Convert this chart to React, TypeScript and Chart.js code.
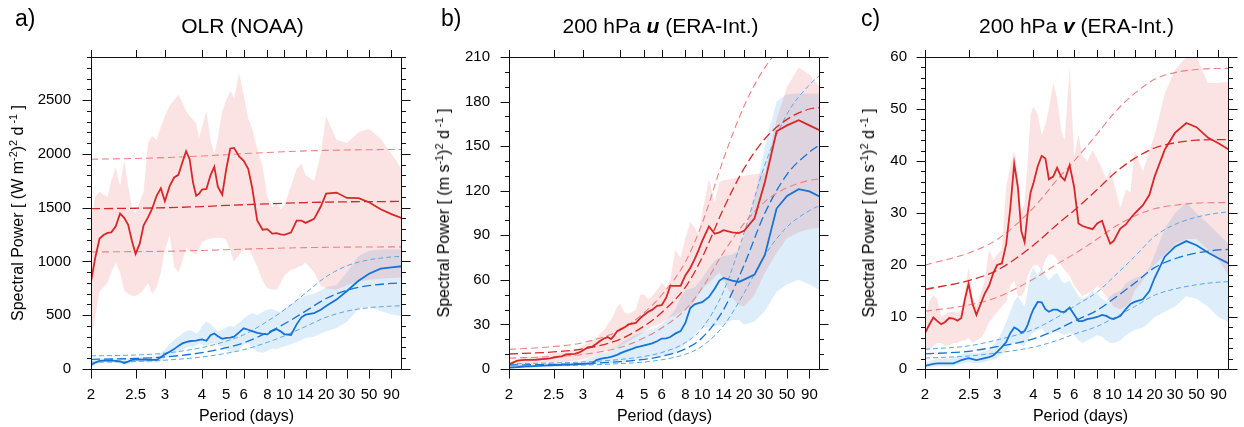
import React, { useEffect, useRef } from 'react';
import { Chart, registerables, LinearScale } from 'chart.js';

Chart.register(...registerables);

// ---------------- data ----------------
const PERIODS = [
  2, 2.04, 2.08, 2.12, 2.16, 2.2, 2.25, 2.3, 2.35, 2.4,
  2.45, 2.5, 2.56, 2.62, 2.69, 2.76, 2.84, 2.92, 3, 3.1,
  3.2, 3.3, 3.4, 3.5, 3.6, 3.7, 3.8, 3.9, 4, 4.15,
  4.3, 4.45, 4.6, 4.8, 5, 5.2, 5.4, 5.7, 6, 6.3,
  6.6, 7, 7.5, 8, 8.5, 9, 9.5, 10, 11, 12,
  13, 14, 16, 18, 20, 24, 30, 38, 50, 65,
  90, 120,
];
const FIT_PERIODS = [2, 2.5, 3, 4, 5, 6, 8, 10, 14, 20, 30, 50, 90, 120];
const X_TICK_PERIODS = [2, 2.5, 3, 4, 5, 6, 8, 10, 14, 20, 30, 50, 90];
const PERIOD_MIN = 2;
const PERIOD_MAX = 120;

// a) OLR (NOAA)
const OLR_RED = [
  813, 1040, 1213, 1245, 1265, 1270, 1327, 1445, 1405, 1340,
  1190, 1070, 1165, 1335, 1410, 1490, 1610, 1680, 1560, 1700,
  1780, 1805, 1920, 2025, 1950, 1735, 1610, 1630, 1668, 1673,
  1800, 1880, 1695, 1620, 1860, 2050, 2055, 1975, 1935, 1860,
  1680, 1380, 1295, 1300, 1258, 1262, 1252, 1247, 1268, 1380,
  1380, 1358, 1395, 1510, 1630, 1640, 1590, 1588, 1550, 1485,
  1440, 1402,
];
const OLR_BLUE = [
  37, 60, 75, 77, 78, 77, 75, 70, 55, 68,
  84, 87, 89, 88, 85, 84, 84, 110, 136, 160,
  185, 215, 238, 250, 258, 262, 264, 270, 275, 262,
  315, 330, 305, 280, 290, 292, 300, 340, 378, 365,
  352, 335, 327, 322, 355, 370, 350, 325, 316, 415,
  480, 505, 520, 550, 585, 645, 725, 820, 885, 933,
  945, 955,
];
const OLR_RED_HI = [
  1400, 1600, 1650, 1620, 1600, 1750, 1870, 1700, 1940, 1700,
  1500, 1450, 1550, 1650, 2100, 2165, 2130, 2250, 2350, 2450,
  2500, 2550, 2480, 2400, 2350, 2320, 2280, 2150, 2250, 2400,
  2130, 2000, 2150, 2400, 2500, 2585, 2520, 2750, 2550, 2330,
  2230, 2050, 1880, 1600, 1500, 1550, 1480, 1520, 1700, 1860,
  1910, 1800, 1750, 2000, 2350, 2130, 2100, 2200, 2230, 2140,
  2000, 1855,
];
const OLR_RED_LO = [
  300, 500, 720, 760, 800, 900, 990, 900, 730, 700,
  680, 680, 700, 736, 800, 700, 760, 900, 1100, 1250,
  950, 900, 1000, 1130, 1100, 1080, 1063, 1120, 1180, 1200,
  1210, 1215, 1219, 1219, 1200, 1100, 1000, 1060, 1110, 1120,
  1050, 950, 820, 750, 740, 736, 800, 870, 920, 940,
  960, 990, 900, 770, 750, 736, 780, 810, 830, 840,
  845, 850,
];
const OLR_BLUE_HI = [
  85, 90, 95, 98, 100, 100, 100, 100, 95, 100,
  105, 108, 110, 110, 110, 112, 120, 150, 180, 230,
  270, 300, 330, 350, 360, 350, 330, 350, 400, 440,
  420, 380, 350, 360, 390, 400, 390, 430, 470, 500,
  520, 500, 530, 550, 560, 540, 530, 560, 600, 640,
  670, 680, 700, 730, 760, 780, 900, 1050, 1100, 1110,
  1112, 1110,
];
const OLR_BLUE_LO = [
  20, 40, 55, 58, 60, 60, 58, 50, 40, 45,
  55, 60, 62, 62, 60, 60, 60, 75, 95, 115,
  140, 160, 180, 200, 210, 200, 220, 240, 230, 215,
  235, 240, 220, 200, 180, 160, 150, 180, 230, 240,
  200, 160, 150, 170, 190, 185, 200, 210, 230, 250,
  270, 290, 300, 330, 350, 380, 440, 560, 580, 540,
  510, 490,
];
const OLR_RED_FIT_HI = [1950, 1957, 1965, 1980, 1992, 2002, 2012, 2020, 2027, 2032, 2036, 2038, 2040, 2040];
const OLR_RED_FIT = [1490, 1494, 1499, 1510, 1520, 1527, 1535, 1541, 1547, 1551, 1554, 1556, 1557, 1558];
const OLR_RED_FIT_LO = [1088, 1091, 1094, 1102, 1109, 1114, 1120, 1124, 1128, 1131, 1133, 1134, 1135, 1135];
const OLR_BLUE_FIT_HI = [122, 130, 147, 199, 259, 318, 443, 548, 705, 858, 959, 1015, 1041, 1048];
const OLR_BLUE_FIT = [90, 98, 112, 152, 198, 243, 338, 418, 538, 655, 732, 775, 795, 800];
const OLR_BLUE_FIT_LO = [62, 70, 82, 112, 146, 179, 248, 307, 395, 481, 538, 570, 584, 588];

// b) 200 hPa u (ERA-Int.)
const U_RED = [
  3.1, 4.5, 5.6, 6.0, 6.1, 6.1, 6.1, 6.4, 6.7, 6.9,
  7.2, 7.7, 8.2, 8.5, 9.8, 10.0, 10.2, 11.0, 12.5, 14.5,
  15.0, 17.0, 19.0, 20.5, 21.5, 20.2, 22.5, 25.5, 26.5, 28.0,
  30.0, 30.5, 31.0, 34.3, 36.5, 38.5, 39.8, 42.5, 43.0, 48,
  56, 56, 56, 63, 68, 74, 80, 86, 96, 91,
  92, 93.5, 92, 91.5, 93, 101.5, 126, 160, 164, 167.5,
  164, 160.5,
];
const U_BLUE = [
  0.9, 1.1, 1.3, 1.5, 1.7, 1.8, 2.0, 2.1, 2.3, 2.4,
  2.5, 2.6, 2.7, 2.8, 2.9, 3.0, 3.2, 3.3, 3.4, 3.6,
  3.8, 6.0, 6.8, 7.3, 7.7, 8.2, 8.8, 9.5, 10.5, 11.7,
  12.7, 13.6, 14.6, 15.2, 15.9, 16.6, 17.2, 18.7, 20.5, 20.6,
  21.5, 23.8, 25.5, 31, 41, 43.5, 44.3, 45, 48.5, 54,
  59.5, 61.3, 59.5, 58.6, 60.2, 63.5, 77, 108, 116.5, 121,
  119.5, 116,
];
const U_RED_HI = [
  4.5, 5.5, 6.5, 7.0, 7.5, 8.0, 8.0, 8.5, 9.0, 9.5,
  10.0, 10.5, 11.0, 11.5, 12.0, 12.5, 13.0, 14.0, 16, 17.5,
  19, 21, 24, 26, 30, 33, 37, 42, 44, 38,
  37, 38.6, 40, 50, 50, 47, 49, 53, 58, 55,
  60, 80, 75, 88, 99, 95, 90, 105, 128, 112,
  126, 127, 128, 129, 130, 131, 132, 168, 190, 203,
  198, 190,
];
const U_RED_LO = [
  1.5, 1.8, 2.0, 2.2, 2.4, 2.6, 2.8, 3.0, 3.2, 3.4,
  3.6, 3.8, 4.0, 4.3, 4.6, 5.0, 5.5, 6.0, 6.8, 7.5,
  8.5, 9.5, 10.5, 11.5, 12.5, 13.0, 14.0, 14.5, 15.5, 17,
  18.5, 20, 21.5, 23, 25, 27, 29, 30, 31, 33,
  35, 36, 38, 40, 42, 46, 50, 54, 58, 62,
  65, 60, 48, 43, 42, 50, 65, 78, 88, 92,
  94, 95,
];
const U_BLUE_HI = [
  1.5, 1.6, 1.8, 2.0, 2.2, 2.4, 2.6, 2.8, 3.0, 3.2,
  3.4, 3.6, 3.8, 4.0, 4.2, 4.4, 4.6, 5.0, 5.5, 6.5,
  8, 9.5, 10.5, 11, 11.5, 12.5, 14, 15.5, 17, 19,
  20.5, 22, 23, 24, 25, 26, 27, 28, 30, 33,
  36, 40, 48, 53, 54, 55, 58, 61, 68, 73,
  75, 76, 77, 80, 90, 115, 150, 180, 185, 185.5,
  185.5, 185.5,
];
const U_BLUE_LO = [
  0.3, 0.4, 0.5, 0.6, 0.7, 0.8, 0.9, 1.0, 1.1, 1.2,
  1.3, 1.4, 1.5, 1.6, 1.7, 1.8, 1.9, 2.0, 2.2, 2.5,
  2.8, 3.0, 3.2, 3.4, 3.6, 3.8, 3.9, 4.0, 4.0, 4.5,
  5, 5.5, 6, 6.5, 7, 7.5, 8, 8.5, 9, 9.2,
  9.4, 11, 14, 17, 20, 23, 26, 27.6, 28, 29,
  29.5, 30, 33, 33, 30, 32, 39, 52, 57, 60,
  57, 53,
];
const U_RED_FIT_HI = [13.2, 15.1, 17.7, 26.2, 38, 49.8, 72, 98, 141.5, 177, 203, 220, 229, 231];
const U_RED_FIT = [10.1, 11.5, 13.5, 20, 29, 38, 55, 75, 108, 135, 155, 168, 175, 176];
const U_RED_FIT_LO = [7.3, 8.4, 9.8, 14.5, 21, 27.6, 40, 54.5, 78.5, 98, 112.7, 122, 127, 128];
const U_BLUE_FIT_HI = [3.5, 4.1, 4.7, 6.4, 8.5, 11.1, 17.7, 27.5, 52.4, 91.7, 137.6, 171.6, 191.3, 197.8];
const U_BLUE_FIT = [2.7, 3.1, 3.6, 4.9, 6.5, 8.5, 13.5, 21, 40, 70, 105, 131, 146, 151];
const U_BLUE_FIT_LO = [2.0, 2.3, 2.6, 3.6, 4.7, 6.2, 9.9, 15.3, 29.2, 51.1, 76.7, 95.6, 106.6, 110.2];

// c) 200 hPa v (ERA-Int.)
const V_RED = [
  6.9, 8.5, 9.9, 9.2, 8.6, 9.0, 9.8, 9.7, 9.3, 9.8,
  13.5, 16.4, 12.5, 10.4, 12.5, 14.5, 16.0, 18.4, 20.0, 20.3,
  24, 31, 39.5, 35, 26.5, 24.4, 30, 34, 35.7, 39,
  41, 40.5, 36.5, 37, 38.7, 37, 36.3, 39.2, 35, 28,
  27.5, 27.2, 26.9, 28, 28.5, 26, 24.1, 24.6, 27, 27.8,
  29, 29.9, 31.5, 33.5, 37, 42.2, 45.4, 47.3, 46.5, 44.5,
  43.4, 42.2,
];
const V_BLUE = [
  0.6, 0.8, 1.0, 1.1, 1.1, 1.1, 1.1, 1.1, 1.4, 1.7,
  1.9, 2.1, 1.9, 1.7, 1.9, 2.1, 2.3, 2.6, 3.3, 4.2,
  5.2, 6.9, 8.0, 7.6, 7.0, 7.3, 8.5, 10.2, 11.5, 12.9,
  12.8, 11.5, 11.0, 11.4, 11.4, 11.0, 11.0, 11.8, 10.5, 9.2,
  9.2, 9.6, 9.8, 10.0, 10.4, 10.2, 9.8, 9.6, 10.2, 11.5,
  12.5, 12.9, 13.4, 15.0, 17.5, 21.6, 23.5, 24.6, 23.8, 22.4,
  21.3, 20.3,
];
const V_RED_HI = [
  9.5, 13, 14.2, 13.5, 10, 10.5, 11, 11, 10.8, 11.5,
  15, 19.5, 14, 12, 14.5, 17, 23, 21, 22, 23,
  35, 39, 42, 38, 30, 32, 40, 49, 50.5, 49,
  45, 47, 50, 55, 52, 46, 44, 58, 41, 45,
  41, 40, 42, 40.5, 38.5, 36.5, 38.5, 36, 31, 34.5,
  34, 42, 38, 42, 45, 53, 57.5, 60, 60, 55,
  55, 55.3,
];
const V_RED_LO = [
  4, 3.5, 4.5, 5, 5, 4.5, 4.5, 5, 5, 5.5,
  5.5, 6, 5, 5.5, 6, 7, 9, 10, 11, 12,
  13, 16, 17, 14, 14, 15, 18, 19, 20, 20,
  19, 21, 22, 22, 21, 20, 19, 18, 16, 15,
  14, 14.5, 15, 16, 15, 14, 13, 12, 11.5, 12,
  13, 15, 17, 19, 20, 22, 24, 25, 25, 23,
  21, 18,
];
const V_BLUE_HI = [
  1.2, 1.5, 1.8, 2.0, 2.0, 2.0, 2.0, 2.2, 2.5, 2.8,
  3.0, 3.2, 3.0, 3.0, 3.2, 3.4, 3.8, 4.5, 5.5, 7,
  9, 11, 13, 14, 13, 12, 15, 18.5, 19.5, 18,
  19.5, 18, 17, 18, 18.5, 17, 16.5, 17, 15.5, 14,
  13.5, 14, 15, 14.5, 13.5, 13, 14, 14.5, 15, 16.5,
  17, 17.5, 18, 19.5, 22, 27, 30, 32, 30, 28,
  26, 24,
];
const V_BLUE_LO = [
  0.2, 0.3, 0.4, 0.5, 0.5, 0.5, 0.5, 0.6, 0.8, 1.0,
  1.2, 1.3, 1.2, 1.1, 1.2, 1.4, 1.6, 1.8, 2.2, 2.8,
  3.5, 4.5, 5, 5, 4.5, 4.5, 5.5, 6.5, 7, 7.5,
  7.8, 7, 6.5, 7, 7.2, 6.8, 6.5, 7, 6.5, 5.5,
  5, 5.5, 6, 6.5, 6.2, 5.5, 5, 5, 5.5, 6.5,
  7, 7.5, 8, 9, 10, 11, 12, 14, 13.5, 12,
  10, 9,
];
const V_RED_FIT_HI = [20, 22.3, 24.9, 31, 36.4, 40, 45.2, 49.1, 53, 55.7, 57, 57.6, 57.8, 57.8];
const V_RED_FIT = [15.3, 17, 19, 23.8, 27.8, 30.5, 34.5, 37.5, 40.5, 42.5, 43.5, 44, 44.1, 44.1];
const V_RED_FIT_LO = [11.1, 12.3, 13.8, 17.3, 20.2, 22.1, 25, 27.2, 29.4, 30.8, 31.5, 31.9, 32, 32];
const V_BLUE_FIT_HI = [3.8, 4.45, 5.6, 7.6, 9.95, 12.05, 14.8, 17.7, 21.6, 25.5, 27.8, 29.2, 30, 30.2];
const V_BLUE_FIT = [2.9, 3.4, 4.3, 5.8, 7.6, 9.2, 11.3, 13.5, 16.5, 19.5, 21.2, 22.3, 22.9, 23.0];
const V_BLUE_FIT_LO = [2.1, 2.5, 3.1, 4.2, 5.5, 6.7, 8.2, 9.8, 12, 14.2, 15.4, 16.2, 16.7, 16.8];

const OLR_Y_TICKS = [0, 500, 1000, 1500, 2000, 2500];
const U_Y_TICKS = [0, 30, 60, 90, 120, 150, 180, 210];
const V_Y_TICKS = [0, 10, 20, 30, 40, 50, 60];

// ---------------- period axis (the figure's non-uniform period scale) ----------------
const AXIS_ANCHOR_PERIODS = [2, 2.5, 3, 4, 5, 6, 8, 10, 14, 20, 30, 50, 90, 120];
const AXIS_ANCHOR_FRACS = [0, 0.1434, 0.2375, 0.357, 0.435, 0.491, 0.567, 0.621, 0.69, 0.756, 0.823, 0.894, 0.966, 1];

function periodToFrac(p: number): number {
  const f = 1 / p;
  const n = AXIS_ANCHOR_PERIODS.length;
  for (let i = 0; i < n - 1; i++) {
    const f0 = 1 / AXIS_ANCHOR_PERIODS[i];
    const f1 = 1 / AXIS_ANCHOR_PERIODS[i + 1];
    if (f >= f1 || i === n - 2) {
      return AXIS_ANCHOR_FRACS[i] + ((f0 - f) / (f0 - f1)) * (AXIS_ANCHOR_FRACS[i + 1] - AXIS_ANCHOR_FRACS[i]);
    }
  }
  return 0;
}
function fracToPeriod(u: number): number {
  const n = AXIS_ANCHOR_PERIODS.length;
  for (let i = 0; i < n - 1; i++) {
    if (u <= AXIS_ANCHOR_FRACS[i + 1] || i === n - 2) {
      const f0 = 1 / AXIS_ANCHOR_PERIODS[i];
      const f1 = 1 / AXIS_ANCHOR_PERIODS[i + 1];
      const t = (u - AXIS_ANCHOR_FRACS[i]) / (AXIS_ANCHOR_FRACS[i + 1] - AXIS_ANCHOR_FRACS[i]);
      return 1 / (f0 + t * (f1 - f0));
    }
  }
  return PERIOD_MAX;
}

class PeriodScale extends (LinearScale as any) {
  static id = 'period';
  static defaults = (LinearScale as any).defaults;
  buildTicks() {
    return X_TICK_PERIODS.map((value) => ({ value }));
  }
  getPixelForValue(value: number) {
    return (this as any).getPixelForDecimal(periodToFrac(value));
  }
  getValueForPixel(pixel: number) {
    return fracToPeriod((this as any).getDecimalForPixel(pixel));
  }
}
Chart.register(PeriodScale as any);

// ---------------- layout & style ----------------
const W = 1244;
const H = 427;
const PLOT_TOP = 57;
const PLOT_BOTTOM = 369;
const Y_AXIS_W = 60;
const X_AXIS_H = 40;
const FONT = '"Liberation Sans", Arial, Helvetica, sans-serif';

const RED = '#d62828';
const BLUE = '#1673d2';
const RED_LIGHT = '#ee8080';
const BLUE_LIGHT = '#5ea6e6';
const RED_FILL = 'rgba(230, 90, 90, 0.17)';
const BLUE_FILL = 'rgba(40, 140, 225, 0.155)';

const Sup = ({ children }: any) => (
  <sup style={{ fontSize: '0.68em', verticalAlign: '0.55em', lineHeight: 0 }}>{children}</sup>
);

const PANELS = [
  {
    key: 'a', letter: 'a)', letterX: 15,
    title: <>OLR (NOAA)</>,
    yTitle: <>Spectral Power [ (W m<Sup>-2</Sup>)<Sup>2</Sup> d<Sup> -1</Sup> ]</>,
    left: 91, right: 402, yMax: 2900, yTicks: OLR_Y_TICKS, yMinorStep: 100, labelPad: 20, yTitleX: 18,
    red: OLR_RED, blue: OLR_BLUE, redHi: OLR_RED_HI, redLo: OLR_RED_LO, blueHi: OLR_BLUE_HI, blueLo: OLR_BLUE_LO,
    redFit: OLR_RED_FIT, redFitHi: OLR_RED_FIT_HI, redFitLo: OLR_RED_FIT_LO,
    blueFit: OLR_BLUE_FIT, blueFitHi: OLR_BLUE_FIT_HI, blueFitLo: OLR_BLUE_FIT_LO,
  },
  {
    key: 'b', letter: 'b)', letterX: 441,
    title: <>200 hPa <b><i>u</i></b> (ERA-Int.)</>,
    yTitle: <>Spectral Power [ (m s<Sup>-1</Sup>)<Sup>2</Sup> d<Sup> -1</Sup> ]</>,
    left: 509, right: 820, yMax: 210, yTicks: U_Y_TICKS, yMinorStep: 10, labelPad: 19, yTitleX: 444,
    red: U_RED, blue: U_BLUE, redHi: U_RED_HI, redLo: U_RED_LO, blueHi: U_BLUE_HI, blueLo: U_BLUE_LO,
    redFit: U_RED_FIT, redFitHi: U_RED_FIT_HI, redFitLo: U_RED_FIT_LO,
    blueFit: U_BLUE_FIT, blueFitHi: U_BLUE_FIT_HI, blueFitLo: U_BLUE_FIT_LO,
  },
  {
    key: 'c', letter: 'c)', letterX: 861,
    title: <>200 hPa <b><i>v</i></b> (ERA-Int.)</>,
    yTitle: <>Spectral Power [ (m s<Sup>-1</Sup>)<Sup>2</Sup> d<Sup> -1</Sup> ]</>,
    left: 925, right: 1236, yMax: 60, yTicks: V_Y_TICKS, yMinorStep: 2, labelPad: 18, yTitleX: 868.5,
    red: V_RED, blue: V_BLUE, redHi: V_RED_HI, redLo: V_RED_LO, blueHi: V_BLUE_HI, blueLo: V_BLUE_LO,
    redFit: V_RED_FIT, redFitHi: V_RED_FIT_HI, redFitLo: V_RED_FIT_LO,
    blueFit: V_BLUE_FIT, blueFitHi: V_BLUE_FIT_HI, blueFitLo: V_BLUE_FIT_LO,
  },
];

function makeFramePlugin(p: any) {
  return {
    id: 'frameTicks' + p.key,
    afterDraw(chart: any) {
      const { ctx, chartArea: a } = chart;
      const xs = chart.scales.x;
      const ys = chart.scales.y;
      const L = Math.round(a.left);
      const R = Math.round(a.right);
      const T = Math.round(a.top);
      const B = Math.round(a.bottom);
      ctx.save();
      ctx.setLineDash([]);
      ctx.strokeStyle = '#111';
      ctx.lineWidth = 1;
      ctx.beginPath();
      ctx.moveTo(L + 0.5, T + 0.5);
      ctx.lineTo(R - 0.5, T + 0.5);
      ctx.lineTo(R - 0.5, B + 0.5);
      ctx.lineTo(L + 0.5, B + 0.5);
      ctx.closePath();
      for (const v of X_TICK_PERIODS) {
        const x = Math.round(xs.getPixelForValue(v)) + 0.5;
        ctx.moveTo(x, B + 0.5);
        ctx.lineTo(x, B + 9.5);
        ctx.moveTo(x, T + 0.5);
        ctx.lineTo(x, T - 7);
      }
      for (let v = 0; v <= p.yMax + 1e-9; v += p.yMinorStep) {
        const y = Math.round(ys.getPixelForValue(v)) + 0.5;
        const len = p.yTicks.includes(v) ? 9 : 4.5;
        ctx.moveTo(L + 0.5, y);
        ctx.lineTo(L + 0.5 - len, y);
        ctx.moveTo(R - 0.5, y);
        ctx.lineTo(R - 0.5 + len, y);
      }
      ctx.stroke();
      ctx.restore();
    },
  };
}

function buildConfig(p: any): any {
  const pts = (xs: number[], ys: number[]) => xs.map((x, i) => ({ x, y: ys[i] }));
  const band = (ys: number[], fill: any, color: string, order: number) => ({
    data: pts(PERIODS, ys),
    borderColor: 'rgba(0,0,0,0)',
    borderWidth: 0,
    backgroundColor: color,
    fill,
    pointRadius: 0,
    pointHoverRadius: 0,
    tension: 0,
    order,
  });
  const line = (xs: number[], ys: number[], color: string, width: number, dash: number[], order: number, smooth: boolean) => ({
    data: pts(xs, ys),
    borderColor: color,
    backgroundColor: color,
    borderWidth: width,
    borderDash: dash,
    fill: false,
    pointRadius: 0,
    pointHoverRadius: 0,
    tension: 0,
    cubicInterpolationMode: smooth ? 'monotone' : 'default',
    capBezierPoints: false,
    order,
  });
  const tickFont = { family: FONT, size: 15 };
  return {
    type: 'line',
    data: {
      datasets: [
        band(p.blueLo, false, 'rgba(0,0,0,0)', 21),
        band(p.blueHi, 0, BLUE_FILL, 20),
        band(p.redLo, false, 'rgba(0,0,0,0)', 19),
        band(p.redHi, 2, RED_FILL, 18),
        line(FIT_PERIODS, p.blueFitLo, BLUE_LIGHT, 1, [5, 3], 6, true),
        line(FIT_PERIODS, p.blueFit, BLUE, 1.3, [9, 4], 6, true),
        line(FIT_PERIODS, p.blueFitHi, BLUE_LIGHT, 1, [5, 3], 6, true),
        line(FIT_PERIODS, p.redFitLo, RED_LIGHT, 1.1, [7, 4], 5, true),
        line(FIT_PERIODS, p.redFit, RED, 1.3, [9, 4], 5, true),
        line(FIT_PERIODS, p.redFitHi, RED_LIGHT, 1.1, [7, 4], 5, true),
        line(PERIODS, p.blue, BLUE, 1.8, [], 2, false),
        line(PERIODS, p.red, RED, 1.8, [], 1, false),
      ],
    },
    options: {
      animation: false,
      responsive: false,
      devicePixelRatio: 1,
      events: [],
      layout: {
        padding: {
          left: p.left - Y_AXIS_W,
          right: W - p.right,
          top: PLOT_TOP,
          bottom: H - PLOT_BOTTOM - X_AXIS_H,
        },
      },
      plugins: { legend: { display: false }, tooltip: { enabled: false }, title: { display: false } },
      scales: {
        x: {
          type: 'period',
          min: PERIOD_MIN,
          max: PERIOD_MAX,
          grid: { display: false, drawTicks: false },
          border: { display: false },
          ticks: {
            autoSkip: false,
            maxRotation: 0,
            minRotation: 0,
            padding: 17,
            color: '#000',
            font: tickFont,
            callback: (v: any) => String(v),
          },
          afterFit: (s: any) => {
            s.height = X_AXIS_H;
          },
        },
        y: {
          type: 'linear',
          min: 0,
          max: p.yMax,
          bounds: 'data',
          grid: { display: false, drawTicks: false },
          border: { display: false },
          ticks: {
            padding: p.labelPad,
            color: '#000',
            font: tickFont,
            callback: (v: any) => String(v),
          },
          afterBuildTicks: (s: any) => {
            s.ticks = p.yTicks.map((value: number) => ({ value }));
          },
          afterFit: (s: any) => {
            s.width = Y_AXIS_W;
          },
        },
      },
    },
    plugins: [makeFramePlugin(p)],
  };
}

function PanelChart({ panel }: any) {
  const ref = useRef<HTMLCanvasElement>(null);
  useEffect(() => {
    const chart = new Chart(ref.current as HTMLCanvasElement, buildConfig(panel));
    return () => chart.destroy();
  }, [panel]);
  return (
    <canvas
      ref={ref}
      width={W}
      height={H}
      style={{ position: 'absolute', left: 0, top: 0, width: W, height: H }}
    />
  );
}

export default function App() {
  useEffect(() => {
    document.body.style.margin = '0';
  }, []);
  return (
    <div
      style={{
        position: 'absolute',
        left: 0,
        top: 0,
        width: W,
        height: H,
        background: '#fff',
        overflow: 'hidden',
        fontFamily: FONT,
        color: '#000',
      }}
    >
      {PANELS.map((p) => (
        <PanelChart key={p.key} panel={p} />
      ))}
      {PANELS.map((p) => (
        <React.Fragment key={'t' + p.key}>
          <div style={{ position: 'absolute', left: p.letterX, top: 7, fontSize: 23, lineHeight: '23px', whiteSpace: 'nowrap' }}>
            {p.letter}
          </div>
          <div
            style={{
              position: 'absolute',
              left: p.left - 4,
              width: p.right - p.left,
              top: 14.5,
              textAlign: 'center',
              fontSize: 21,
              lineHeight: '21px',
              whiteSpace: 'nowrap',
            }}
          >
            {p.title}
          </div>
          <div
            style={{
              position: 'absolute',
              left: p.left,
              width: p.right - p.left,
              top: 408,
              textAlign: 'center',
              fontSize: 16,
              lineHeight: '16px',
              whiteSpace: 'nowrap',
            }}
          >
            Period (days)
          </div>
          <div
            style={{
              position: 'absolute',
              left: p.yTitleX,
              top: (PLOT_TOP + PLOT_BOTTOM) / 2,
              transform: 'translate(-50%, -50%) rotate(-90deg)',
              fontSize: 16,
              lineHeight: '16px',
              whiteSpace: 'nowrap',
            }}
          >
            {p.yTitle}
          </div>
        </React.Fragment>
      ))}
    </div>
  );
}
